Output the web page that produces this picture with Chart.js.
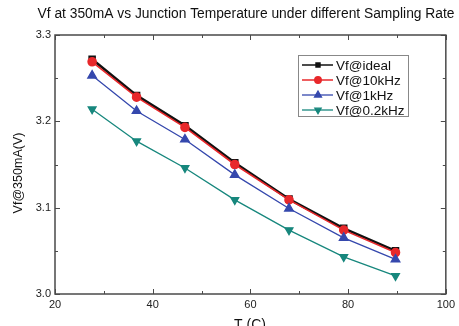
<!DOCTYPE html>
<html>
<head>
<meta charset="utf-8">
<script src="https://cdn.jsdelivr.net/npm/chart.js@4.4.1/dist/chart.umd.min.js"></script>
<style>
  html, body { margin: 0; padding: 0; background: #fff; }
  #wrap { width: 459px; height: 326px; }
</style>
</head>
<body>
<div id="wrap"><canvas id="vfChart" width="459" height="326"></canvas></div>
<script>
// temperaturas (C) y tensiones
const temps = [27.6, 36.7, 46.6, 56.8, 67.9, 79.1, 89.7];
const vfIdeal = [3.272, 3.230, 3.195, 3.152, 3.110, 3.076, 3.050];
const vf10k  = [3.269, 3.228, 3.193, 3.150, 3.109, 3.074, 3.048];
const vf1k   = [3.253, 3.212, 3.179, 3.138, 3.099, 3.065, 3.040];
const vf02k  = [3.214, 3.177, 3.146, 3.109, 3.074, 3.043, 3.021];
const seriesNames = ['Vf@ideal', 'Vf@10kHz', 'Vf@1kHz', 'Vf@0.2kHz'];
const xTicks = [20, 40, 60, 80, 100];
const yTicks = [3.0, 3.1, 3.2, 3.3];

const FONT = 'Arial, "Liberation Sans", sans-serif';

const toPoints = vals => vals.map((v, i) => ({ x: temps[i], y: v }));

const datasets = [
    { label: seriesNames[0], data: toPoints(vfIdeal), borderColor: '#111', backgroundColor: '#111',
      borderWidth: 2.6, pointStyle: 'rect', pointRadius: 3.5, order: 4 },
    { label: seriesNames[1], data: toPoints(vf10k), borderColor: '#e8282b', backgroundColor: '#e8282b',
      borderWidth: 1.6, pointStyle: 'circle', pointRadius: 4, order: 3 },
    { label: seriesNames[2], data: toPoints(vf1k), borderColor: '#3548ad', backgroundColor: '#3548ad',
      borderWidth: 1.3, pointStyle: 'triangle', pointRadius: 5, order: 2 },
    { label: seriesNames[3], data: toPoints(vf02k), borderColor: '#17877d', backgroundColor: '#17877d',
      borderWidth: 1.3, pointStyle: 'triangle', pointRotation: 180, pointRadius: 4.5, order: 1 }
];

// marcas hacia dentro en los cuatro lados, marco, titulos y leyenda
const frameAndLabels = {
    id: 'frameAndLabels',
    afterDraw(chart) {
        const ctx = chart.ctx;
        const a = chart.chartArea;
        const xs = chart.scales.x, ys = chart.scales.y;
        ctx.save();
        ctx.strokeStyle = '#4a4a4a';
        ctx.lineWidth = 1.5;
        ctx.strokeRect(a.left, a.top, a.right - a.left, a.bottom - a.top);

        ctx.lineWidth = 1;
        for (let v = 20; v <= 100; v += 10) {
            const px = Math.round(xs.getPixelForValue(v)) + 0.5;
            const len = v % 20 === 0 ? 5 : 3;
            ctx.beginPath();
            ctx.moveTo(px, a.bottom); ctx.lineTo(px, a.bottom - len);
            ctx.moveTo(px, a.top); ctx.lineTo(px, a.top + len);
            ctx.stroke();
        }
        for (let k = 0; k <= 6; k++) {
            const v = 3.0 + k * 0.05;
            const py = Math.round(ys.getPixelForValue(v)) + 0.5;
            const len = k % 2 === 0 ? 5 : 3;
            ctx.beginPath();
            ctx.moveTo(a.left, py); ctx.lineTo(a.left + len, py);
            ctx.moveTo(a.right, py); ctx.lineTo(a.right - len, py);
            ctx.stroke();
        }

        // titulo
        ctx.fillStyle = '#111';
        ctx.font = '13.8px ' + FONT;
        ctx.textAlign = 'center';
        ctx.textBaseline = 'middle';
        ctx.fillText('Vf at 350mA vs Junction Temperature under different Sampling Rate', 246, 14);

        // titulos de ejes
        ctx.font = '14px ' + FONT;
        ctx.fillText('T (C)', 250, 325);
        ctx.save();
        ctx.translate(19, 173);
        ctx.rotate(-Math.PI / 2);
        ctx.font = '12.5px ' + FONT;
        ctx.fillText('Vf@350mA(V)', 0, 0);
        ctx.restore();

        // leyenda
        ctx.strokeStyle = '#888';
        ctx.lineWidth = 1;
        ctx.strokeRect(298.5, 55.5, 110, 61);
        const rowY = [65, 80, 95, 110];
        ctx.font = '13.5px ' + FONT;
        ctx.textAlign = 'left';
        chart.data.datasets.forEach((ds, i) => {
            const y = rowY[i];
            ctx.strokeStyle = ds.borderColor;
            ctx.lineWidth = Math.min(ds.borderWidth, 1.5);
            ctx.beginPath();
            ctx.moveTo(302, y); ctx.lineTo(333, y);
            ctx.stroke();
            ctx.fillStyle = ds.backgroundColor;
            Chart.helpers.drawPoint(ctx, {
                pointStyle: ds.pointStyle,
                rotation: ds.pointRotation || 0,
                radius: ds.pointRadius * 0.8,
                borderWidth: 1
            }, 318, y);
            ctx.fillStyle = '#111';
            ctx.fillText(ds.label, 336, y + 1);
        });
        ctx.restore();
    }
};

new Chart(document.getElementById('vfChart'), {
    type: 'line',
    data: { datasets },
    options: {
        responsive: false,
        animation: false,
        layout: { padding: { top: 35, right: 13, left: 0, bottom: 0 } },
        plugins: { legend: { display: false }, title: { display: false }, tooltip: { enabled: false } },
        elements: { line: { tension: 0 } },
        scales: {
            x: {
                type: 'linear', min: 20, max: 100,
                afterFit: s => { s.height = 32; },
                grid: { display: false, drawTicks: false },
                border: { display: false },
                ticks: {
                    stepSize: 20, padding: 4, color: '#222',
                    font: { family: FONT, size: 11 },
                    callback: v => xTicks.includes(v) ? String(v) : ''
                }
            },
            y: {
                type: 'linear', min: 3.0, max: 3.3,
                afterFit: s => { s.width = 55; },
                grid: { display: false, drawTicks: false },
                border: { display: false },
                ticks: {
                    stepSize: 0.1, padding: 4, color: '#222',
                    font: { family: FONT, size: 11 },
                    callback: v => yTicks.some(t => Math.abs(t - v) < 1e-6) ? v.toFixed(1) : ''
                }
            }
        }
    },
    plugins: [frameAndLabels]
});
</script>
</body>
</html>
